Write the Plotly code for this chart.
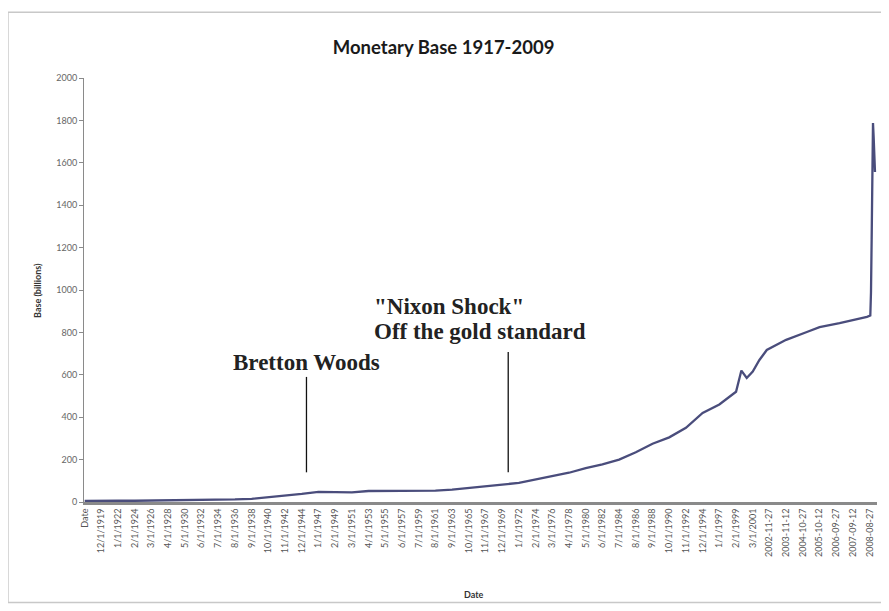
import plotly.graph_objects as go

# ---- data ----
tick_labels = ["Date", "12/1/1919", "1/1/1922", "2/1/1924", "3/1/1926", "4/1/1928", "5/1/1930",
               "6/1/1932", "7/1/1934", "8/1/1936", "9/1/1938", "10/1/1940", "11/1/1942",
               "12/1/1944", "1/1/1947", "2/1/1949", "3/1/1951", "4/1/1953", "5/1/1955",
               "6/1/1957", "7/1/1959", "8/1/1961", "9/1/1963", "10/1/1965", "11/1/1967",
               "12/1/1969", "1/1/1972", "2/1/1974", "3/1/1976", "4/1/1978", "5/1/1980",
               "6/1/1982", "7/1/1984", "8/1/1986", "9/1/1988", "10/1/1990", "11/1/1992",
               "12/1/1994", "1/1/1997", "2/1/1999", "3/1/2001", "2002-11-27", "2003-11-12",
               "2004-10-27", "2005-10-12", "2006-09-27", "2007-09-12", "2008-08-27"]
# row number (category position) of each labelled row
tick_rows = [0, 25, 50, 75, 100, 125, 150, 175, 200, 225, 250, 275, 300, 325, 350, 375,
             400, 425, 450, 475, 500, 525, 550, 575, 600, 625, 650, 675, 700, 725, 750,
             775, 800, 825, 850, 875, 900, 925, 950, 975, 1000, 1025, 1050, 1075, 1100,
             1125, 1150, 1175]

# sampled observations: row number and monetary base (billions)
obs_rows = [0, 25, 50, 75, 100, 125, 150, 175, 200, 225, 250, 275, 300, 325, 350, 375,
            400, 425, 450, 475, 500, 525, 550, 575, 600, 625, 650, 675, 700, 725, 750,
            775, 800, 825, 850, 875, 900, 925, 950, 975, 983, 991, 1000, 1010, 1021,
            1050, 1081, 1100, 1130, 1150, 1171, 1176, 1177, 1178, 1179, 1180, 1181,
            1182, 1183]
base_values = [5, 7, 6, 6, 7, 7, 7, 8, 9, 12, 15, 22, 28, 38, 48, 48,
               45, 52, 52, 53, 53, 54, 58, 65, 72, 82, 90, 105, 120, 138, 160,
               178, 200, 235, 275, 305, 350, 420, 460, 520, 620, 585, 615, 670, 717,
               765, 802, 825, 844, 858, 873, 880, 990, 1240, 1510, 1788, 1720,
               1640, 1557]

# event markers: row, bottom and top of the marker line (billions)
event_rows = [332, 634]
event_bottom = [140, 140]
event_top = [590, 708]

title_text = "Monetary Base 1917-2009"
y_title = "Base (billions)"
x_title = "Date"

# ---- figure ----
fig = go.Figure()
fig.add_trace(go.Scatter(x=obs_rows, y=base_values, mode="lines",
                         line=dict(color="#4a4d7c", width=2.3), showlegend=False,
                         hoverinfo="skip"))

for r, b, t in zip(event_rows, event_bottom, event_top):
    fig.add_trace(go.Scatter(x=[r, r], y=[b, t], mode="lines",
                             line=dict(color="#111111", width=1.3),
                             showlegend=False, hoverinfo="skip"))

serif = "Liberation Serif"
ann = [
    dict(x=332, y=660, text="<b>Bretton Woods</b>", xanchor="center", yanchor="middle"),
    dict(x=430, y=920, text='<b>"Nixon Shock"</b>', xanchor="left", yanchor="middle"),
    dict(x=430, y=802, text="<b>Off the gold standard</b>", xanchor="left", yanchor="middle"),
]
for a in ann:
    fig.add_annotation(xref="x", yref="y", showarrow=False,
                       font=dict(family=serif, size=23, color="#222222"), **a)

# axis titles
fig.add_annotation(xref="paper", yref="paper", x=0.4918, y=-0.217, text="<b>" + x_title + "</b>",
                   showarrow=False, font=dict(family="Lato", size=9, color="#333333"),
                   xanchor="center", yanchor="middle")
fig.add_annotation(xref="paper", yref="paper", x=-0.0593, y=0.5, text="<b>" + y_title + "</b>",
                   showarrow=False, textangle=-90,
                   font=dict(family="Lato", size=9, color="#333333"),
                   xanchor="center", yanchor="middle")

# outer chart border
fig.add_shape(type="rect", xref="paper", yref="paper", x0=-0.0959, x1=1.03, y0=-0.237, y1=1.155,
              line=dict(color="#c8c8c8", width=1.5), fillcolor="rgba(0,0,0,0)", layer="below")

fig.update_layout(
    width=889, height=611,
    margin=dict(l=76, r=20, t=70, b=117),
    paper_bgcolor="white", plot_bgcolor="white",
    title=dict(text="<b>" + title_text + "</b>", x=0.49, xanchor="center", y=0.936, yanchor="middle",
               font=dict(family="Lato", size=18.5, color="#1a1a1a")),
    xaxis=dict(range=[-1, 1186], tickmode="array", tickvals=tick_rows, ticktext=tick_labels,
               tickangle=-90, tickfont=dict(family="Lato", size=9, color="#555555"),
               showgrid=False, zeroline=False, showline=True, linecolor="#8a8a8a",
               linewidth=3, ticks="", fixedrange=True),
    yaxis=dict(range=[0, 2000], tickmode="linear", tick0=0, dtick=200,
               tickfont=dict(family="Lato", size=9, color="#666666"),
               showgrid=False, zeroline=False, showline=True, linecolor="#8a8a8a",
               linewidth=1, ticks="outside", ticklen=4, tickcolor="#8a8a8a",
               fixedrange=True),
)

fig.write_html("out.html")
